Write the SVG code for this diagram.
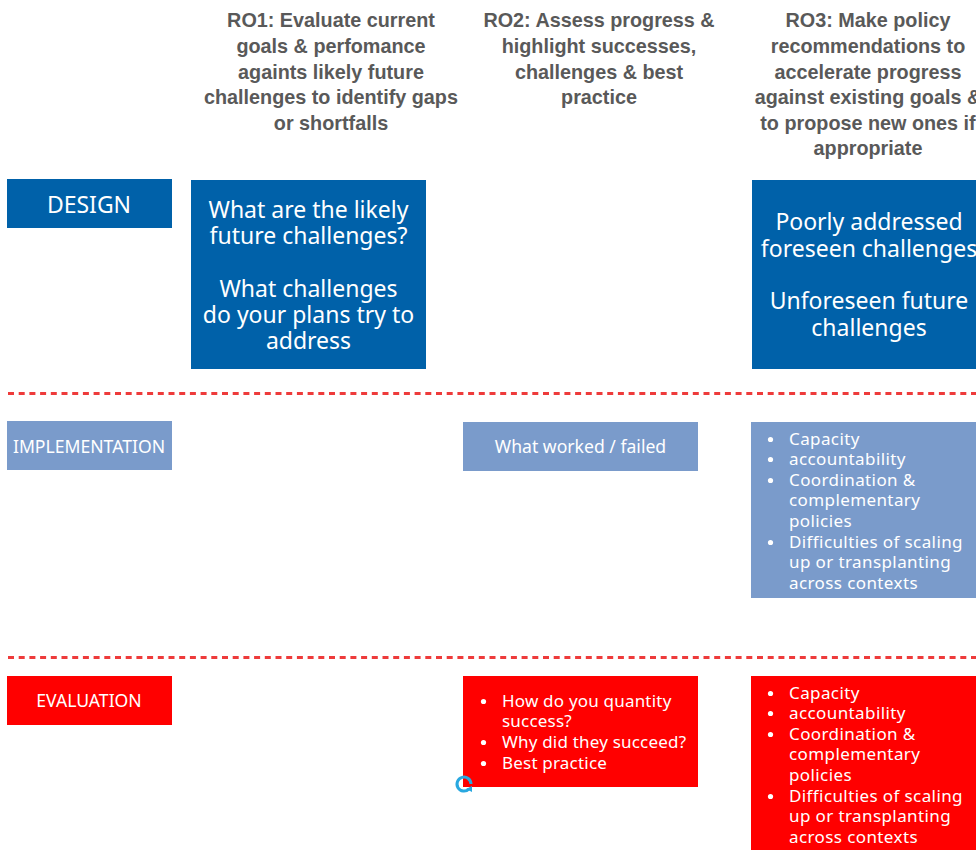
<svg xmlns="http://www.w3.org/2000/svg" width="976" height="850" viewBox="0 0 976 850">
<style>
.hdr{font-family:"Liberation Sans","DejaVu Sans",sans-serif;font-weight:bold;font-size:19.8px;fill:#595959;text-anchor:middle}
.lbl{font-family:"Noto Sans","Liberation Sans",sans-serif;fill:#fff;text-anchor:middle}
.big{font-family:"Noto Sans","Liberation Sans",sans-serif;fill:#fff;text-anchor:middle;font-size:23px}
.lst{font-family:"Noto Sans","Liberation Sans",sans-serif;fill:#fff;font-size:17px;letter-spacing:0.4px}
.bul{fill:#fff}
.blue{fill:#0061A9}
.lblue{fill:#7A9BCB}
.red{fill:#FF0000}
.dash{stroke:#EE3B3B;stroke-width:3;stroke-dasharray:6 4.7;fill:none}
</style>
<rect width="976" height="850" fill="#fff"/>
<g id="headers">
<text class="hdr" x="331" y="27">RO1: Evaluate current</text>
<text class="hdr" x="331" y="53">goals &amp; perfomance</text>
<text class="hdr" x="331" y="79">againts likely future</text>
<text class="hdr" x="331" y="104">challenges to identify gaps</text>
<text class="hdr" x="331" y="130">or shortfalls</text>
<text class="hdr" x="599" y="27">RO2: Assess progress &amp;</text>
<text class="hdr" x="599" y="53">highlight successes,</text>
<text class="hdr" x="599" y="79">challenges &amp; best</text>
<text class="hdr" x="599" y="104">practice</text>
<text class="hdr" x="868" y="27">RO3: Make policy</text>
<text class="hdr" x="868" y="53">recommendations to</text>
<text class="hdr" x="868" y="79">accelerate progress</text>
<text class="hdr" x="868" y="104">against existing goals &amp;</text>
<text class="hdr" x="868" y="130">to propose new ones if</text>
<text class="hdr" x="868" y="155">appropriate</text>
</g>
<g id="connectors">
<line class="dash" x1="8" y1="393.5" x2="976" y2="393.5"/>
<line class="dash" x1="8" y1="657.5" x2="976" y2="657.5"/>
</g>
<g id="design-label">
<rect class="blue" x="7" y="179" width="165" height="49"/>
<text class="lbl" x="89" y="213" font-size="23">DESIGN</text>
</g>
<g id="design-ro1">
<rect class="blue" x="191" y="180" width="235" height="189"/>
<text class="big" x="308.5" y="218">What are the likely</text>
<text class="big" x="308.5" y="244">future challenges?</text>
<text class="big" x="308.5" y="297">What challenges</text>
<text class="big" x="308.5" y="323">do your plans try to</text>
<text class="big" x="308.5" y="349">address</text>
</g>
<g id="design-ro3">
<rect class="blue" x="752" y="180" width="224" height="189"/>
<text class="big" x="869" y="230">Poorly addressed</text>
<text class="big" x="869" y="257">foreseen challenges</text>
<text class="big" x="869" y="309">Unforeseen future</text>
<text class="big" x="869" y="336">challenges</text>
</g>
<g id="impl-label">
<rect class="lblue" x="7" y="421" width="165" height="49"/>
<text class="lbl" x="89" y="453" font-size="17.6">IMPLEMENTATION</text>
</g>
<g id="impl-ro2">
<rect class="lblue" x="463" y="422" width="235" height="49"/>
<text class="lbl" x="580.5" y="453" font-size="17.6">What worked / failed</text>
</g>
<g id="impl-ro3">
<rect class="lblue" x="751" y="422" width="225" height="176"/>
<circle class="bul" cx="770.5" cy="439.5" r="2.6"/>
<circle class="bul" cx="770.5" cy="459.5" r="2.6"/>
<circle class="bul" cx="770.5" cy="480.5" r="2.6"/>
<circle class="bul" cx="770.5" cy="542.5" r="2.6"/>
<g class="lst">
<text x="789" y="445">Capacity</text>
<text x="789" y="465">accountability</text>
<text x="789" y="486">Coordination &amp;</text>
<text x="789" y="506">complementary</text>
<text x="789" y="527">policies</text>
<text x="789" y="548">Difficulties of scaling</text>
<text x="789" y="568">up or transplanting</text>
<text x="789" y="589">across contexts</text>
</g>
</g>
<g id="eval-label">
<rect class="red" x="7" y="676" width="165" height="49"/>
<text class="lbl" x="89" y="707" font-size="17.6">EVALUATION</text>
</g>
<g id="eval-ro2">
<rect class="red" x="463" y="676" width="235" height="111"/>
<circle class="bul" cx="483.5" cy="701.5" r="2.6"/>
<circle class="bul" cx="483.5" cy="742.5" r="2.6"/>
<circle class="bul" cx="483.5" cy="763.5" r="2.6"/>
<g class="lst" style="letter-spacing:0.2px">
<text x="502" y="707">How do you quantity</text>
<text x="502" y="727">success?</text>
<text x="502" y="748">Why did they succeed?</text>
<text x="502" y="769">Best practice</text>
</g>
</g>
<g id="eval-ro3">
<rect class="red" x="751" y="676" width="225" height="174"/>
<circle class="bul" cx="770.5" cy="693.5" r="2.6"/>
<circle class="bul" cx="770.5" cy="713.5" r="2.6"/>
<circle class="bul" cx="770.5" cy="734.5" r="2.6"/>
<circle class="bul" cx="770.5" cy="796.5" r="2.6"/>
<g class="lst">
<text x="789" y="699">Capacity</text>
<text x="789" y="719">accountability</text>
<text x="789" y="740">Coordination &amp;</text>
<text x="789" y="760">complementary</text>
<text x="789" y="781">policies</text>
<text x="789" y="802">Difficulties of scaling</text>
<text x="789" y="822">up or transplanting</text>
<text x="789" y="843">across contexts</text>
</g>
</g>
<g id="icon">
<path d="M 469 789 A 7 7 0 1 1 471 784" fill="none" stroke="#29A8E0" stroke-width="3"/>
<path d="M 466 789 L 472 792 L 472 786 Z" fill="#29A8E0"/>
</g>
</svg>
